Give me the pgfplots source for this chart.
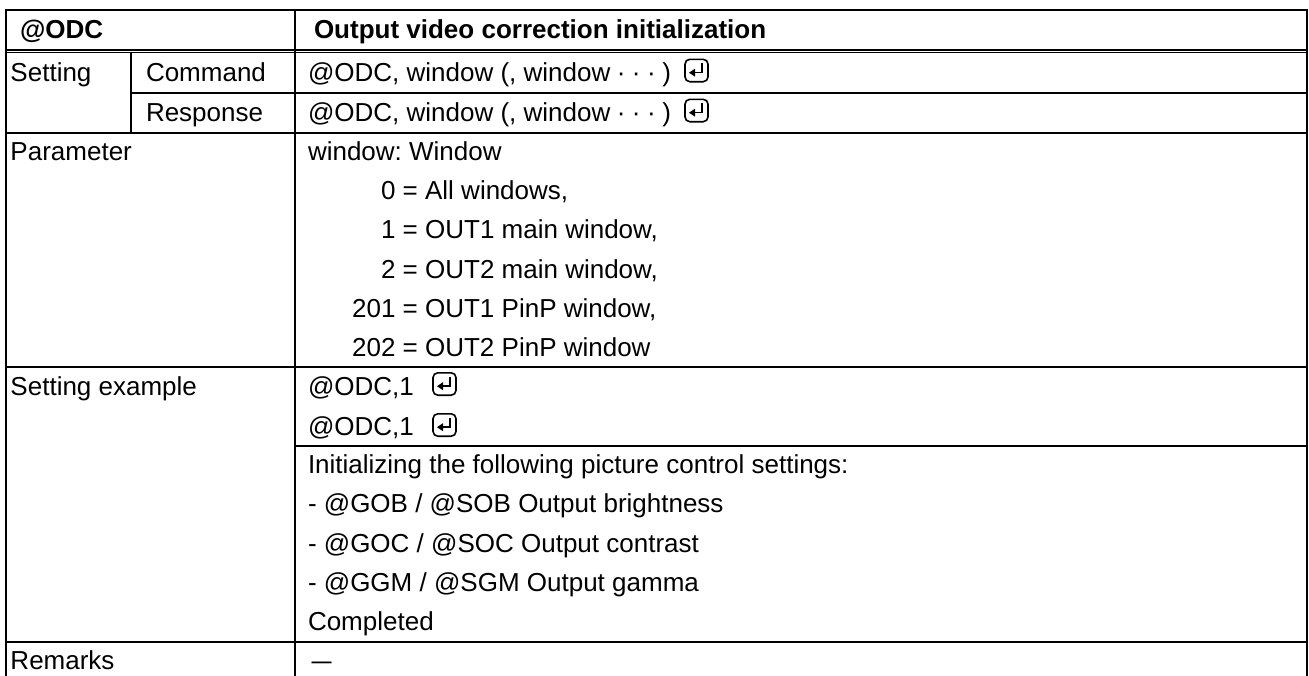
\documentclass[border=0pt]{standalone}
\usepackage{pgfplots}
\pgfplotsset{compat=1.18}
\usepackage{fontspec}
\setmainfont{Liberation Sans}
\frenchspacing
\newcommand\retsym[2]{%
 \draw[line width=0.8pt, rounded corners=2.4pt] (axis cs:#1,#2-11.2) rectangle (axis cs:#1+23,#2+11.2);
 \draw[line width=0.75pt] (axis cs:#1+17,#2-7.2) -- (axis cs:#1+17,#2+2.2) -- (axis cs:#1+8,#2+2.2);
 \fill (axis cs:#1+4,#2+2.2) -- (axis cs:#1+10,#2-1.8) -- (axis cs:#1+10,#2+6.2) -- cycle;
}
\newcommand\dotsep{\kern3.25pt·\kern3.25pt·\kern3.25pt·\kern3.25pt}
\tikzset{t/.style={anchor=base west, inner sep=0pt, outer sep=0pt, font=\fontsize{13}{15}\selectfont},
  tb/.style={t, font=\fontsize{13}{15}\selectfont\bfseries}}
\begin{document}
\begin{tikzpicture}
\begin{axis}[name=T, width=654.5pt, height=337.5pt, scale only axis,
  xmin=0, xmax=1309, ymin=0, ymax=675, y dir=reverse,
  axis lines=none, ticks=none, clip=false,
  tl/.style={black, line width=1pt, line cap=rect, no markers, forget plot},
  dl/.style={black, line width=0.7pt, no markers, forget plot}]
% horizontal rules
\addplot[tl] coordinates {(6,10) (1307,10)};
\addplot[dl] coordinates {(6,50) (1307,50)};
\addplot[dl] coordinates {(6,52.7) (1307,52.7)};
\addplot[tl] coordinates {(131,93) (1307,93)};
\addplot[tl] coordinates {(6,133) (1307,133)};
\addplot[tl] coordinates {(6,367) (1307,367)};
\addplot[tl] coordinates {(295,446) (1307,446)};
\addplot[tl] coordinates {(6,642) (1307,642)};
% vertical rules
\addplot[tl] coordinates {(6,10) (6,675)};
\addplot[tl] coordinates {(1307,10) (1307,675)};
\addplot[tl] coordinates {(295,10) (295,675)};
\addplot[tl] coordinates {(131,52.7) (131,133)};
% header
\node[tb] at (axis cs:20,38) {@ODC};
\node[tb] at (axis cs:314,38) {Output video correction initialization};
% left column
\node[t] at (axis cs:10.5,81) {Setting};
\node[t] at (axis cs:146,81) {Command};
\node[t] at (axis cs:146,121) {Response};
\node[t] at (axis cs:10.5,160.6) {Parameter};
\node[t] at (axis cs:10.5,395.5) {Setting example};
\node[t] at (axis cs:10.5,669.5) {Remarks};
% right column
\node[t] at (axis cs:308,81) {@ODC, window (, window\dotsep)};
\node[t] at (axis cs:308,121) {@ODC, window (, window\dotsep)};
\retsym{685}{70.5}
\retsym{685}{110.5}
\node[t] at (axis cs:308,160.6) {window: Window};
\node[t] at (axis cs:395.5,199.7) {\llap{0} = All windows,};
\node[t] at (axis cs:395.5,238.9) {\llap{1} = OUT1 main window,};
\node[t] at (axis cs:395.5,278.0) {\llap{2} = OUT2 main window,};
\node[t] at (axis cs:395.5,317.2) {\llap{201} = OUT1 PinP window,};
\node[t] at (axis cs:395.5,356.3) {\llap{202} = OUT2 PinP window};
\node[t] at (axis cs:308,395.5) {@ODC,1};
\node[t] at (axis cs:308,435.5) {@ODC,1};
\retsym{433}{384}
\retsym{433}{425}
\node[t] at (axis cs:308,473.8) {Initializing the following picture control settings:};
\node[t] at (axis cs:308,512.9) {- @GOB / @SOB Output brightness};
\node[t] at (axis cs:308,552.1) {- @GOC / @SOC Output contrast};
\node[t] at (axis cs:308,591.2) {- @GGM / @SGM Output gamma};
\node[t] at (axis cs:308,630.4) {Completed};
\node[t] at (axis cs:311.7,669.5) {\scalebox{0.77}[1]{—}};
\end{axis}
\pgfresetboundingbox
\path[use as bounding box] (T.south west) rectangle (T.north east);
\end{tikzpicture}
\end{document}
